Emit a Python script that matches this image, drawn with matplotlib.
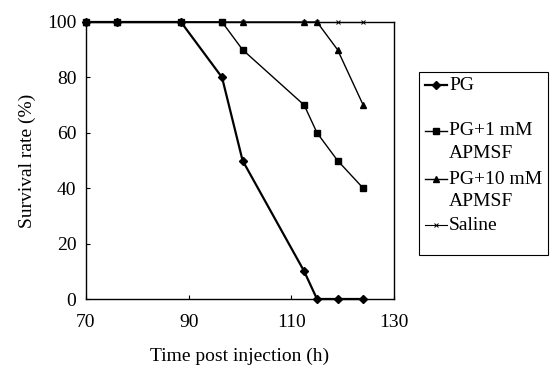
import matplotlib
matplotlib.use("Agg")
import matplotlib.pyplot as plt
from matplotlib.lines import Line2D
from matplotlib.patches import Rectangle

plt.rcParams['font.family'] = ['Liberation Serif', 'DejaVu Serif']

# time post injection (h)
hours = [70, 76, 88.5, 96.5, 100.5, 112.5, 115, 119, 124]
pg = [100, 100, 100, 80, 50, 10, 0, 0, 0]
pg_1mm = [100, 100, 100, 100, 90, 70, 60, 50, 40]
pg_10mm = [100, 100, 100, 100, 100, 100, 100, 90, 70]
saline = [100, 100, 100, 100, 100, 100, 100, 100, 100]

labels = [['PG'], ['PG+1 mM', 'APMSF'], ['PG+10 mM', 'APMSF'], ['Saline']]
styles = [dict(marker='D', ms=4, lw=1.6),
          dict(marker='s', ms=5, lw=1.0),
          dict(marker='^', ms=5, lw=1.0),
          dict(marker='x', ms=3, lw=0.8, mew=0.7)]
series = [pg, pg_1mm, pg_10mm, saline]

W, H = 558, 376
fig = plt.figure(figsize=(W / 100, H / 100), dpi=100)
ax = fig.add_axes([86 / W, 1 - 299 / H, 308 / W, 277 / H])

for i in [3, 2, 1, 0]:
    ax.plot(hours, series[i], color='black', zorder=5 - i, clip_on=False, **styles[i])

ax.set_xlim(70, 130)
ax.set_ylim(0, 100)
ax.set_xticks([70, 90, 110, 130])
ax.set_yticks([0, 20, 40, 60, 80, 100])
ax.tick_params(axis='y', direction='in', length=3, labelsize=14, pad=7)
ax.tick_params(axis='x', direction='in', length=3, labelsize=14, pad=11)
for s in ax.spines.values():
    s.set_linewidth(1.0)

ax.set_xlabel('Time post injection (h)', fontsize=14, labelpad=12)
ax.set_ylabel('Survival rate (%)', fontsize=14, labelpad=8)

# legend box, drawn by hand so handles sit on the first text line
fig.patches.append(Rectangle((419 / W, 1 - 255 / H), 129 / W, 183 / H,
                             transform=fig.transFigure, fill=False,
                             edgecolor='black', lw=0.8))
rows = [85, 131, 179, 225]
for i, y in enumerate(rows):
    yf = 1 - y / H
    fig.lines.append(Line2D([425 / W, 447 / W], [yf, yf], transform=fig.transFigure,
                            color='black', lw=styles[i]['lw']))
    fig.lines.append(Line2D([436 / W], [yf], transform=fig.transFigure, color='black',
                            marker=styles[i]['marker'], ms=styles[i]['ms'] * 0.9,
                            mew=styles[i].get('mew', 1.0), lw=0))
    for k, line in enumerate(labels[i]):
        fig.text(449 / W, yf - k * 22 / H, line, fontsize=14, va='center', ha='left')

fig.savefig('out.png', dpi=100)
